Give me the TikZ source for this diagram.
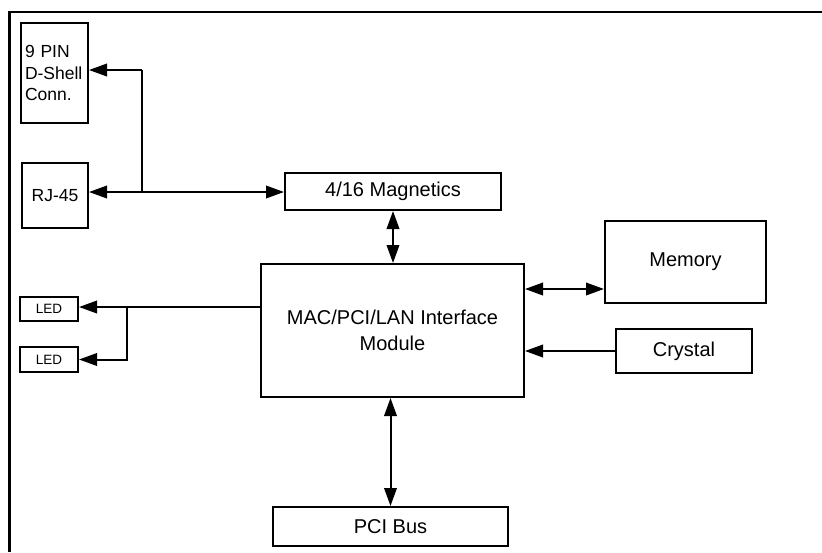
\documentclass[tikz,border=0pt]{standalone}
\usepackage{fontspec}
\setmainfont{Liberation Sans}
\usetikzlibrary{arrows.meta}
\begin{document}
\begin{tikzpicture}[x=1pt,y=-1pt,
  box/.style={draw, line width=2pt, rectangle, inner sep=0pt, font=\fontsize{20}{26}\selectfont, align=center},
  smallbox/.style={box, font=\fontsize{17.5}{21.5}\selectfont},
  ledbox/.style={box, font=\fontsize{13.5}{16}\selectfont},
  conn/.style={line width=2pt},
  tip/.style={},
  arr/.style={conn, -{Triangle[length=18pt,width=12.5pt]}},
  darr/.style={conn, {Triangle[length=18pt,width=12.5pt]}-{Triangle[length=18pt,width=12.5pt]}}
]
\useasboundingbox (0,0) rectangle (822,552);
% outer frame
\draw[line width=2.2pt] (9.5,552) -- (9.5,12) -- (822,12);

\node[smallbox, minimum width=67pt, minimum height=100pt, text width=59pt, inner xsep=4pt, align=left] (pin) at (54.5,73) {9 PIN\\D-Shell\\Conn.};
\node[smallbox, minimum width=66pt, minimum height=65pt] (rj) at (55,195.5) {RJ-45};
\node[box, minimum width=216pt, minimum height=37pt] (mag) at (393,191.5) {4/16 Magnetics};
\node[box, minimum width=263pt, minimum height=133pt] (mac) at (392.5,330.5) {MAC/PCI/LAN Interface\\Module};
\node[box, minimum width=161pt, minimum height=82pt] (mem) at (685.5,262) {Memory};
\node[box, minimum width=136pt, minimum height=44pt] (cry) at (684,351) {Crystal};
\node[box, minimum width=235pt, minimum height=39pt] (pci) at (390.5,526.5) {PCI Bus};
\node[ledbox, minimum width=58pt, minimum height=24pt] (led1) at (49,309) {LED};
\node[ledbox, minimum width=58pt, minimum height=25pt] (led2) at (49,359.5) {LED};

\coordinate (j1) at (142,70);
\coordinate (j2) at (142,192);
\coordinate (memy) at (560,289);
\coordinate (ledy) at (127,307);

\draw[arr] (j1) -- (pin.east |- j1);
\draw[conn] (j1) -- (j2);
\draw[darr] (rj.east |- j2) -- (mag.west |- j2);
\draw[darr] (mag.south) -- (mag.south |- mac.north);
\draw[darr] (mac.east |- memy) -- (mem.west |- memy);
\draw[arr] (cry.west) -- (cry.west -| mac.east);
\draw[darr] (pci.north) -- (pci.north |- mac.south);
\draw[arr] (mac.west |- ledy) -- (led1.east |- ledy);
\draw[arr] (ledy) |- (led2.east);
\end{tikzpicture}
\end{document}
